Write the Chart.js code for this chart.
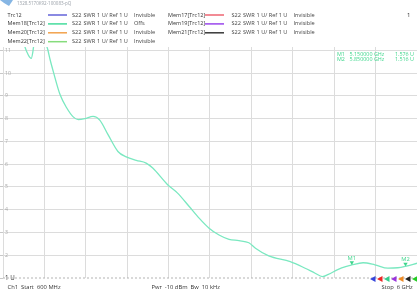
<!DOCTYPE html>
<html lang="en">
<head>
    <meta charset="UTF-8">
    <title>S22 SWR</title>
    <script src="https://cdn.jsdelivr.net/npm/chart.js"></script>
    <style>
        html, body { margin: 0; padding: 0; background: #fff; overflow: hidden; }
    </style>
</head>
<body>
    <canvas id="swrChart" width="417" height="297"></canvas>
    <script>
        // frequency (GHz) and SWR
        const freqGHz = [0.60, 0.80, 0.877, 0.93, 0.968, 0.99, 1.01, 1.06, 1.13, 1.171, 1.184, 1.214, 1.257, 1.344, 1.430,
            1.516, 1.581, 1.668, 1.775, 1.862, 1.970, 2.099, 2.208, 2.338, 2.467, 2.553, 2.747, 2.877, 3.029, 3.158,
            3.288, 3.418, 3.548, 3.677, 3.807, 3.893, 4.066, 4.347, 4.541, 4.671, 4.766, 4.844, 4.973, 5.103, 5.150,
            5.297, 5.450, 5.621, 5.750, 5.850, 6.000];
        const swr = [15, 12.6, 11.26, 10.8, 10.65, 10.95, 11.5, 12.8, 12.0, 11.19, 11.04, 10.6, 10.06, 9.06, 8.48,
            8.08, 7.96, 8.0, 8.1, 7.94, 7.3, 6.56, 6.32, 6.17, 6.05, 5.83, 5.1, 4.73, 4.14, 3.63,
            3.19, 2.89, 2.70, 2.64, 2.55, 2.31, 1.97, 1.72, 1.43, 1.21, 1.06, 1.16, 1.38, 1.53, 1.576,
            1.67, 1.58, 1.43, 1.45, 1.516, 1.65];

        const xTicks = [0.6, 1.14, 1.68, 2.22, 2.76, 3.3, 3.84, 4.38, 4.92, 5.46, 6.0];
        const yTicks = [1, 2, 3, 4, 5, 6, 7, 8, 9, 10, 11];
        const refLevel = 1;

        const markerNames = ['M1', 'M2'];
        const markerFreq = [5.15, 5.85];
        const markerSwr = [1.576, 1.516];

        const legendNames = ['Trc12', 'Mem18[Trc12]', 'Mem20[Trc12]', 'Mem22[Trc12]', 'Mem17[Trc12]', 'Mem19[Trc12]', 'Mem21[Trc12]'];
        const legendColors = ['#6363d8', '#45dc9c', '#f2a24c', '#86dc7c', '#ee6472', '#9a46ec', '#383838'];
        const legendStates = ['Invisible', 'Offs', 'Invisible', 'Invisible', 'Invisible', 'Invisible', 'Invisible'];
        const refArrowColors = ['#3444dc', '#ec2424', '#34cc8c', '#9a34dc', '#ee8a24', '#222222', '#24cc24'];

        const FONT = '"Open Sans", "Noto Sans", sans-serif';
        const traceColor = '#7ae8c0';
        const markerColor = '#3ed68c';

        const decorations = {
            id: 'decorations',
            afterDraw(chart) {
                const { ctx, chartArea, scales } = chart;
                ctx.save();
                ctx.textBaseline = 'middle';

                // logo + header id
                ctx.fillStyle = '#86b6e4';
                ctx.beginPath();
                ctx.moveTo(0, 0); ctx.lineTo(13, 0); ctx.lineTo(9, 6); ctx.lineTo(4, 3); ctx.closePath();
                ctx.fill();
                ctx.fillStyle = '#9aa0a8';
                ctx.font = '4.5px ' + FONT;
                ctx.fillText('1328.5170K92-100083-pQ', 17, 3.5);

                // legend block
                for (let i = 0; i < legendNames.length; i++) {
                    const col = i < 4 ? 0 : 1;
                    const row = i < 4 ? i : i - 4;
                    const y = 15 + row * 8.9;
                    const x0 = col === 0 ? 7.5 : 168;
                    const lx = col === 0 ? 48 : 205;
                    const tx = col === 0 ? 72 : 231.5;
                    ctx.font = '5.5px ' + FONT;
                    ctx.fillStyle = '#333';
                    ctx.fillText(legendNames[i], x0, y);
                    ctx.strokeStyle = legendColors[i];
                    ctx.lineWidth = 1.5;
                    ctx.beginPath();
                    ctx.moveTo(lx, y); ctx.lineTo(lx + 19, y);
                    ctx.stroke();
                    ctx.fillStyle = '#444';
                    ctx.font = '5.6px ' + FONT;
                    ctx.fillText('S22', tx, y);
                    ctx.fillText('SWR', tx + 11.5, y);
                    ctx.fillText('1 U/ Ref 1 U', tx + 25, y);
                    ctx.fillText(legendStates[i], tx + 62, y);
                }
                ctx.font = '6px ' + FONT;
                ctx.fillStyle = '#333';
                ctx.fillText('1', 407, 15);

                // marker readout
                ctx.fillStyle = markerColor;
                ctx.font = '5.4px ' + FONT;
                for (let i = 0; i < markerNames.length; i++) {
                    const y = 54 + i * 5.6;
                    ctx.textAlign = 'left';
                    ctx.fillText(markerNames[i], 337, y);
                    ctx.fillText(markerFreq[i].toFixed(6) + ' GHz', 349.5, y);
                    ctx.textAlign = 'right';
                    ctx.fillText(markerSwr[i].toFixed(3) + ' U', 414, y);
                }

                // markers on trace
                ctx.textAlign = 'center';
                for (let i = 0; i < markerNames.length; i++) {
                    const px = scales.x.getPixelForValue(markerFreq[i]);
                    const py = scales.y.getPixelForValue(markerSwr[i]);
                    ctx.fillStyle = markerColor;
                    ctx.beginPath();
                    ctx.moveTo(px, py); ctx.lineTo(px - 2.2, py - 3.6); ctx.lineTo(px + 2.2, py - 3.6); ctx.closePath();
                    ctx.fill();
                    ctx.font = '5.8px ' + FONT;
                    ctx.fillText(markerNames[i], px, py - 7);
                }

                // reference level arrows at the right edge
                const ay = scales.y.getPixelForValue(refLevel) + 1;
                for (let i = 0; i < refArrowColors.length; i++) {
                    const ax = chartArea.right - 44 + i * 7;
                    ctx.fillStyle = refArrowColors[i];
                    ctx.beginPath();
                    ctx.moveTo(ax - 3, ay); ctx.lineTo(ax + 2.5, ay - 3); ctx.lineTo(ax + 2.5, ay + 3); ctx.closePath();
                    ctx.fill();
                }

                // footer
                ctx.fillStyle = '#333';
                ctx.font = '5.8px ' + FONT;
                ctx.textAlign = 'left';
                ctx.fillText('Ch1  Start  600 MHz', 7.5, 287.5);
                ctx.fillText('Pwr  -10 dBm  Bw  10 kHz', 151.5, 287.5);
                ctx.fillText('Stop  6 GHz', 381.5, 287.5);
                ctx.restore();
            }
        };

        const ctx = document.getElementById('swrChart').getContext('2d');
        const swrChart = new Chart(ctx, {
            type: 'line',
            data: {
                datasets: [{
                    label: 'Mem18[Trc12]',
                    data: freqGHz.map((f, i) => ({ x: f, y: swr[i] })),
                    borderColor: traceColor,
                    borderWidth: 1.3,
                    pointRadius: 0,
                    cubicInterpolationMode: 'monotone'
                }, {
                    label: 'ref',
                    data: [{ x: xTicks[0], y: refLevel }, { x: xTicks[xTicks.length - 1], y: refLevel }],
                    borderColor: '#b4b4b4',
                    borderWidth: 1,
                    borderDash: [2, 2],
                    pointRadius: 0,
                    clip: false
                }]
            },
            options: {
                responsive: false,
                devicePixelRatio: 1,
                animation: false,
                layout: { padding: { top: 47, left: 0, right: 0, bottom: 0 } },
                plugins: {
                    legend: { display: false },
                    tooltip: { enabled: false }
                },
                scales: {
                    x: {
                        type: 'linear',
                        min: 0.6,
                        max: 6,
                        afterBuildTicks: scale => { scale.ticks = xTicks.map(v => ({ value: v })); },
                        afterFit: scale => { scale.height = 19; },
                        ticks: { display: false },
                        grid: { color: '#dcdcdc', lineWidth: 1, drawTicks: false },
                        border: { display: false }
                    },
                    y: {
                        min: 1,
                        max: 11.15,
                        afterBuildTicks: scale => { scale.ticks = yTicks.map(v => ({ value: v })); },
                        afterFit: scale => { scale.width = 3; },
                        ticks: {
                            mirror: true,
                            padding: 2,
                            callback: v => v === 1 ? '1 U' : String(v),
                            color: c => c.tick && c.tick.value === 1 ? '#333' : '#a8a8a8',
                            font: c => ({ family: FONT, size: c.tick && c.tick.value === 1 ? 6.2 : 5.2 })
                        },
                        grid: {
                            color: c => c.tick && c.tick.value === 1 ? 'rgba(0,0,0,0)' : '#dcdcdc',
                            tickColor: '#c8c8c8',
                            tickLength: 3,
                            lineWidth: 1
                        },
                        border: { display: false }
                    }
                }
            },
            plugins: [decorations]
        });
    </script>
</body>
</html>
